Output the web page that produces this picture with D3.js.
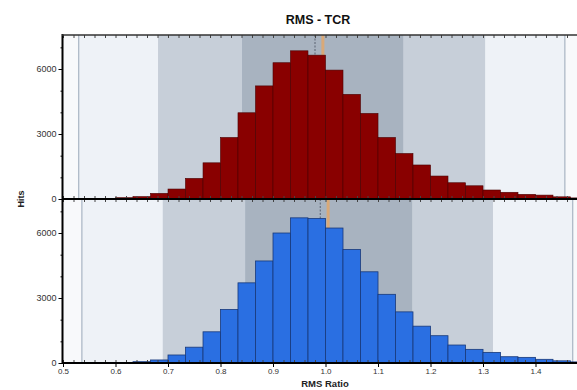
<!DOCTYPE html>
<html><head><meta charset="utf-8">
<script src="https://cdn.jsdelivr.net/npm/d3@7"></script>
<style>
body{margin:0;background:#fff;}
svg{display:block;font-family:"Liberation Sans",Arial,sans-serif;}
</style></head>
<body>
<script>
// ---- data ----
const binWidth = 1/30;
const binStarts = [0.5667,0.6,0.6333,0.6667,0.7,0.7333,0.7667,0.8,0.8333,0.8667,0.9,0.9333,0.9667,1.0,1.0333,1.0667,1.1,1.1333,1.1667,1.2,1.2333,1.2667,1.3,1.3333,1.3667,1.4,1.4333,1.4667];
const topHits    = [20,60,110,260,460,950,1670,2840,3980,5220,6290,6840,6640,5950,4830,3950,2840,2100,1570,1060,750,610,415,310,215,180,100,50];
const bottomHits = [10,25,60,140,370,730,1440,2470,3700,4710,6000,6700,6670,6230,5240,4210,3170,2360,1700,1260,830,630,490,290,260,170,100,50];
// shaded bands [lo, hi]: outer, middle, inner
const topBands    = [[0.530,1.456],[0.681,1.304],[0.841,1.148]];
const bottomBands = [[0.536,1.471],[0.690,1.319],[0.847,1.165]];
const topMarkers    = {mean:0.980, median:0.995};
const bottomMarkers = {mean:0.990, median:1.005};
const xTicks = [0.5,0.6,0.7,0.8,0.9,1.0,1.1,1.2,1.3,1.4];
const yTicks = [0,3000,6000];
const yMinor = [1000,2000,4000,5000,7000];
const title = "RMS - TCR", xLabel = "RMS Ratio", yLabel = "Hits";

// ---- drawing ----
const W=577,H=390;
const svg=d3.select("body").append("svg").attr("width",W).attr("height",H);
const x=d3.scaleLinear().domain([0.5,1.48]).range([63,577.5]);
const xMinor=d3.range(0.5,1.481,0.02);

const panels=[
  {y0:35,y1:199,hits:topHits,bands:topBands,mk:topMarkers,fill:"#890000",stroke:"#4a0000",sw:0.6},
  {y0:199,y1:363,hits:bottomHits,bands:bottomBands,mk:bottomMarkers,fill:"#2a6fe2",stroke:"#18397a",sw:0.8}
];
const bandFills=["#eef2f7","#c7cfd9","#a8b3c0"];

panels.forEach(p=>{
  const y=d3.scaleLinear().domain([0,7570]).range([p.y1,p.y0]);
  const g=svg.append("g");
  g.append("rect").attr("x",x(0.5)).attr("y",p.y0).attr("width",x(1.48)-x(0.5)).attr("height",p.y1-p.y0).attr("fill","#f8f9fb");
  g.selectAll("rect.band").data(p.bands).join("rect").attr("class","band")
    .attr("x",d=>x(d[0])).attr("width",d=>x(d[1])-x(d[0]))
    .attr("y",p.y0).attr("height",p.y1-p.y0).attr("fill",(d,i)=>bandFills[i]);
  g.selectAll("line.edge").data(p.bands[0]).join("line").attr("class","edge")
    .attr("x1",d=>x(d)).attr("x2",d=>x(d)).attr("y1",p.y0).attr("y2",p.y1)
    .attr("stroke","#9aa8b8").attr("stroke-width",1);
  g.append("line").attr("x1",x(p.mk.median)).attr("x2",x(p.mk.median)).attr("y1",p.y0).attr("y2",p.y1)
    .attr("stroke","#eaa660").attr("stroke-width",3).attr("opacity",0.75);
  g.append("line").attr("x1",x(p.mk.mean)).attr("x2",x(p.mk.mean)).attr("y1",p.y0).attr("y2",p.y1)
    .attr("stroke","#5a6270").attr("stroke-width",1).attr("stroke-dasharray","2,1.5");
  g.selectAll("rect.bar").data(binStarts).join("rect").attr("class","bar")
    .attr("x",d=>x(d)).attr("width",d=>x(d+binWidth)-x(d))
    .attr("y",(d,i)=>y(p.hits[i])).attr("height",(d,i)=>p.y1-y(p.hits[i]))
    .attr("fill",p.fill).attr("stroke",p.stroke).attr("stroke-width",p.sw);
  // y axis
  const ya=g.append("g").attr("transform","translate(62.5,0)")
    .call(d3.axisLeft(y).tickValues(yTicks).tickSize(4).tickFormat(d3.format("d")));
  ya.select(".domain").remove();
  ya.selectAll("text").attr("font-size",9).attr("fill","#333").attr("x",-6);
  const ym=g.append("g").attr("transform","translate(62.5,0)")
    .call(d3.axisLeft(y).tickValues(yMinor).tickSize(2).tickFormat(""));
  ym.select(".domain").remove();
  const xt=g.append("g").attr("transform",`translate(0,${p.y0})`)
    .call(d3.axisBottom(x).tickValues(xMinor).tickSize(3).tickFormat(""));
  xt.select(".domain").remove();
  xt.selectAll("line").attr("stroke","#444");
  const xb=g.append("g").attr("transform",`translate(0,${p.y1})`)
    .call(d3.axisTop(x).tickValues(xMinor).tickSize(3).tickFormat(""));
  xb.select(".domain").remove();
  xb.selectAll("line").attr("stroke","#444");
});

// frame lines
svg.append("line").attr("x1",62.5).attr("x2",62.5).attr("y1",34).attr("y2",364).attr("stroke","#000").attr("stroke-width",2);
svg.append("line").attr("x1",62).attr("x2",577).attr("y1",35).attr("y2",35).attr("stroke","#333").attr("stroke-width",1.5);
svg.append("line").attr("x1",62).attr("x2",577).attr("y1",199).attr("y2",199).attr("stroke","#000").attr("stroke-width",2);
svg.append("line").attr("x1",62).attr("x2",577).attr("y1",363).attr("y2",363).attr("stroke","#000").attr("stroke-width",2);

// bottom x axis labels
const xa=svg.append("g").attr("transform","translate(0,363)")
  .call(d3.axisBottom(x).tickValues(xTicks).tickSize(4).tickFormat(d3.format(".1f")));
xa.select(".domain").remove();
xa.selectAll("text").attr("font-size",8).attr("fill","#333").attr("dy","0.5em");

svg.append("text").attr("x",318).attr("y",24).attr("text-anchor","middle")
  .attr("font-size",12.5).attr("font-weight","bold").attr("fill","#111").text(title);
svg.append("text").attr("x",325).attr("y",387).attr("text-anchor","middle")
  .attr("font-size",9.5).attr("font-weight","bold").attr("fill","#222").text(xLabel);
svg.append("text").attr("transform","translate(24,199) rotate(-90)").attr("text-anchor","middle")
  .attr("font-size",9).attr("font-weight","bold").attr("fill","#222").text(yLabel);
</script>
</body></html>
